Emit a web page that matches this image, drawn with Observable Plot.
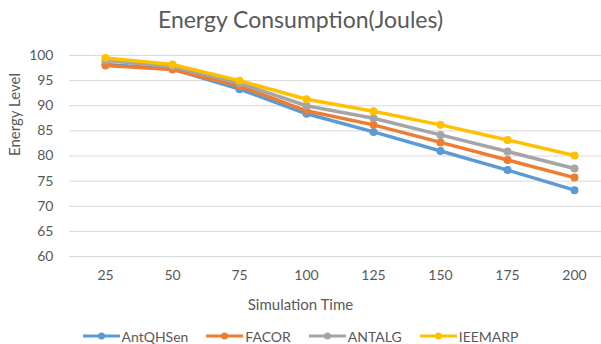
<!DOCTYPE html>
<html><head><meta charset="utf-8">
<script src="https://cdn.jsdelivr.net/npm/d3@7"></script>
<script src="https://cdn.jsdelivr.net/npm/@observablehq/plot@0.6"></script>
<style>
body{margin:0;width:601px;height:344px;overflow:hidden;background:#fff;font-family:Lato,sans-serif;color:#595959;position:relative}
#title{position:absolute;left:0;width:601px;top:4px;text-align:center;font-size:23px;line-height:30px}
#chart{position:absolute;left:0;top:40px;width:610px}
#chart svg{max-width:none !important}
#xlabel{position:absolute;left:0;width:601px;top:293px;text-align:center;font-size:15px;line-height:22px}
#legend{position:absolute;left:0;width:601px;top:325px;height:22px;display:flex;justify-content:center;align-items:center;font-size:14px}
.item{display:flex;align-items:center;margin:0 9px}
.item svg{margin-right:2px}
</style></head>
<body>
<div id="title">Energy Consumption(Joules)</div>
<div id="chart"></div>
<div id="xlabel">Simulation Time</div>
<div id="legend"></div>
<script>
const times = [25, 50, 75, 100, 125, 150, 175, 200];
const series = ["AntQHSen", "FACOR", "ANTALG", "IEEMARP"];
const colors = ["#5B9BD5", "#ED7D31", "#A5A5A5", "#FFC000"];
const antqhsen = [98.2, 97.3, 93.3, 88.4, 84.8, 81.0, 77.2, 73.2];
const facor    = [98.0, 97.2, 93.9, 89.0, 86.2, 82.7, 79.2, 75.7];
const antalg   = [99.0, 97.8, 94.5, 90.0, 87.5, 84.2, 80.9, 77.5];
const ieemarp  = [99.5, 98.2, 95.0, 91.3, 88.9, 86.2, 83.2, 80.1];
const yTicks = [60, 65, 70, 75, 80, 85, 90, 95, 100];
const values = [antqhsen, facor, antalg, ieemarp];

const rows = series.map((s, i) => times.map((t, j) => ({series: s, time: t, value: values[i][j]})));

const chart = Plot.plot({
  width: 610, height: 252,
  marginTop: 15, marginLeft: 69, marginRight: 1, marginBottom: 36,
  style: {fontFamily: "Lato, sans-serif", fontSize: "14px", color: "#595959", background: "transparent", maxWidth: "none"},
  x: {type: "point", domain: times, padding: 0.5, label: null},
  y: {domain: [60, 100], label: null},
  color: {domain: series, range: colors},
  marks: [
    Plot.gridY(yTicks, {stroke: "#d9d9d9", strokeOpacity: 1}),
    Plot.axisY(yTicks, {tickSize: 0, tickPadding: 16, label: null}),
    Plot.axisX(times, {tickSize: 0, tickPadding: 14, label: null}),
    ...rows.flatMap(d => [
      Plot.line(d, {x: "time", y: "value", stroke: "series", strokeWidth: 3.5}),
      Plot.dot(d, {x: "time", y: "value", fill: "series", r: 4})
    ]),
    Plot.text(["Energy Level"], {frameAnchor: "left", rotate: -90, dx: -54, fontSize: 15, fill: "#595959"})
  ]
});
document.getElementById("chart").appendChild(chart);

const legend = d3.select("#legend");
series.forEach((s, i) => {
  const it = legend.append("div").attr("class", "item");
  const sv = it.append("svg").attr("width", 37).attr("height", 10);
  sv.append("line").attr("x1", 0).attr("x2", 37).attr("y1", 5).attr("y2", 5).attr("stroke", colors[i]).attr("stroke-width", 3);
  sv.append("circle").attr("cx", 18.5).attr("cy", 5).attr("r", 3.5).attr("fill", colors[i]);
  it.append("span").text(s);
});
</script>
</body></html>
